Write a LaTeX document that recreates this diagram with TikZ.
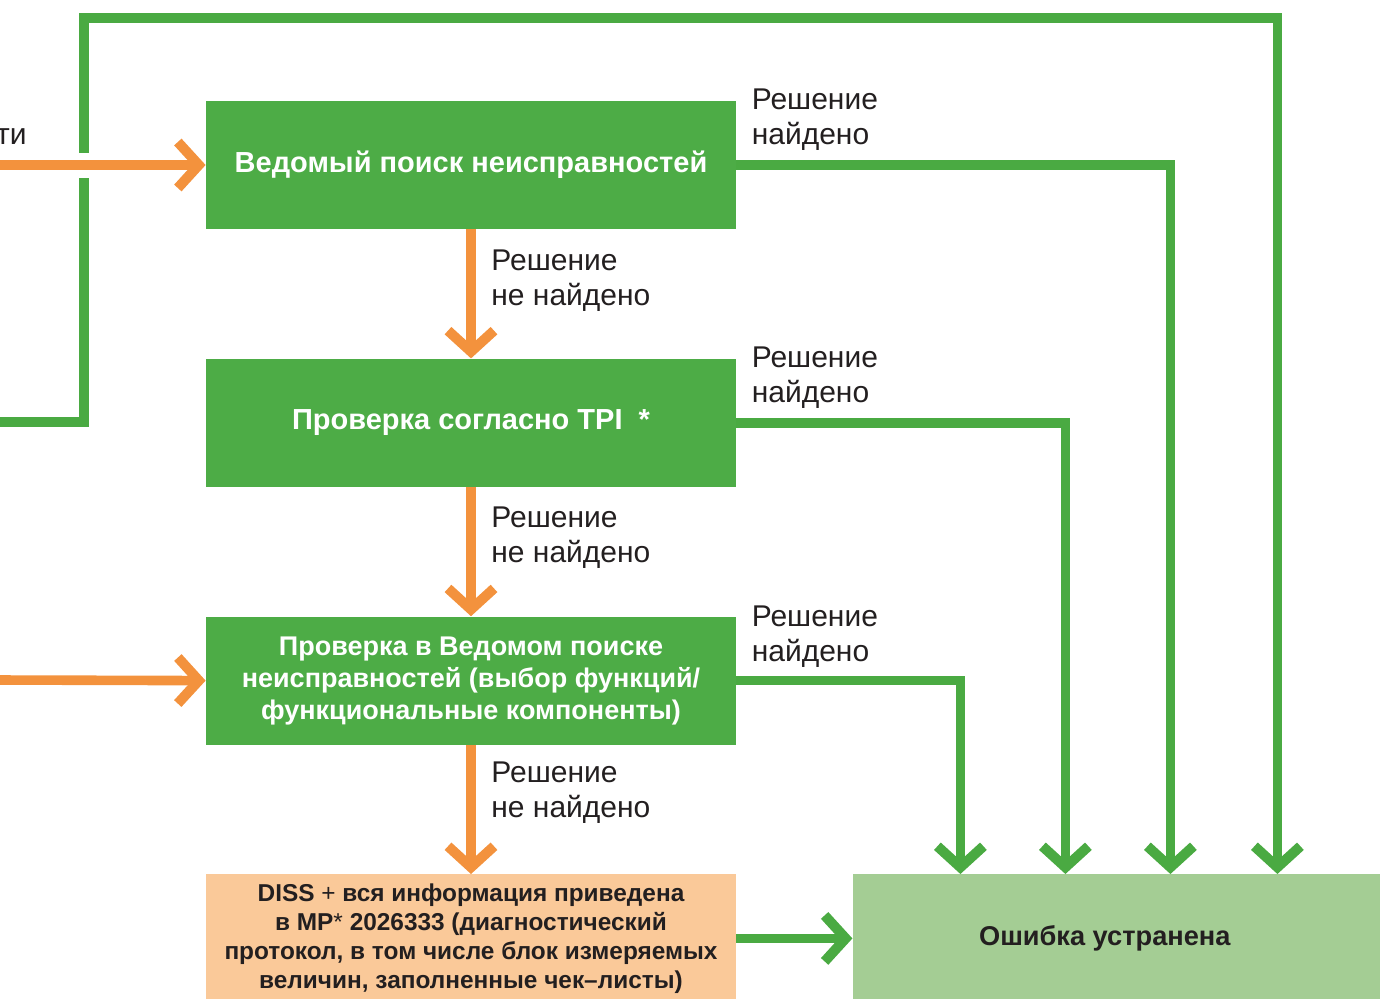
\documentclass[tikz,border=0pt]{standalone}
\usepackage{fontspec}
\setmainfont{Liberation Sans}
\usepackage{tikz}
\usetikzlibrary{arrows.meta,positioning,calc}
\definecolor{boxgreen}{RGB}{77,172,70}
\definecolor{flowgreen}{RGB}{74,170,66}
\definecolor{floworange}{RGB}{243,146,61}
\definecolor{dissbg}{RGB}{250,201,153}
\definecolor{donebg}{RGB}{164,205,148}
\definecolor{labeltext}{RGB}{35,31,32}

\begin{document}
\begin{tikzpicture}[
    x=0.5pt, y=0.5pt,
    node distance=64.5pt,
    stepbox/.style={fill=boxgreen, text=white, align=center, font=\bfseries\fontsize{14.5}{16}\selectfont, minimum width=265pt, minimum height=64pt, inner sep=3pt},
    dissbox/.style={stepbox, fill=dissbg, text=labeltext, font=\bfseries\fontsize{12.2}{14.5}\selectfont},
    donebox/.style={stepbox, fill=donebg, text=labeltext, minimum width=264pt, font=\bfseries\fontsize{13.6}{16}\selectfont},
    okarrow/.style={-{Straight Barb[length=10.5pt, width=23pt, line width=5pt]}, line width=4.8pt, flowgreen, line join=miter},
    noarrow/.style={-{Straight Barb[length=10.5pt, width=23pt, line width=5pt]}, line width=4.8pt, floworange, line join=miter},
    lbl/.style={font=\fontsize{15}{17.5}\selectfont, text=labeltext, align=left, anchor=west, inner sep=0pt}
]
    \useasboundingbox (0,0) rectangle (1380,-998);

    % Main chain of checks
    \node[stepbox] (vedom) at (471,-165) {Ведомый поиск неисправностей};
    \node[stepbox, below=of vedom] (tpi) {Проверка согласно TPI \ *};
    \node[stepbox, below=of tpi, font=\bfseries\fontsize{13.5}{16}\selectfont] (funcs) {Проверка в Ведомом поиске\\неисправностей (выбор функций/\\функциональные компоненты)};
    \node[dissbox, below=of funcs] (diss) {DISS {\mdseries +} вся информация приведена\\в MP{\mdseries *} 2026333 (диагностический\\протокол, в том числе блок измеряемых\\величин, заполненные чек–листы)};
    \node[donebox, right=58pt of diss] (done) {Ошибка устранена\hspace*{12pt}};

    % Entry points at the left edge
    \coordinate (inA) at (0,-165);
    \coordinate (inB) at (0,-680);
    \coordinate (loopin) at (0,-422);
    \coordinate (loopcorner) at (84,-18);
    \node[lbl, anchor=east] (cutlbl) at (27,-137) {ти};

    % Outer loop to the result
    \draw[okarrow] (loopin) -| (loopcorner) -| ($(done.north west)+(425,0)$);

    % Orange "not found" arrows
    \draw[noarrow, preaction={draw=white, line width=12.5pt, -}] (inA) -- (vedom.west);
    \draw[noarrow] (inB) -- (funcs.west);
    \draw[noarrow] (vedom) -- (tpi);
    \draw[noarrow] (tpi) -- (funcs);
    \draw[noarrow] (funcs) -- (diss);

    % Green "found" arrows
    \draw[okarrow] (vedom.east) -| ($(done.north west)+(318,0)$);
    \draw[okarrow] (tpi.east) -| ($(done.north west)+(213,0)$);
    \draw[okarrow] (funcs.east) -| ($(done.north west)+(108,0)$);
    \draw[okarrow] (diss) -- (done);

    % Labels
    \node[lbl] (foundA) at ($(vedom.east)+(15,45)$) {Решение\\найдено};
    \node[lbl] (foundB) at ($(tpi.east)+(15,45)$) {Решение\\найдено};
    \node[lbl] (foundC) at ($(funcs.east)+(15,44)$) {Решение\\найдено};
    \node[lbl] (missA) at ($(vedom.south)+(20,-51)$) {Решение\\не найдено};
    \node[lbl] (missB) at ($(tpi.south)+(20,-50)$) {Решение\\не найдено};
    \node[lbl] (missC) at ($(funcs.south)+(20,-48)$) {Решение\\не найдено};
\end{tikzpicture}
\end{document}
